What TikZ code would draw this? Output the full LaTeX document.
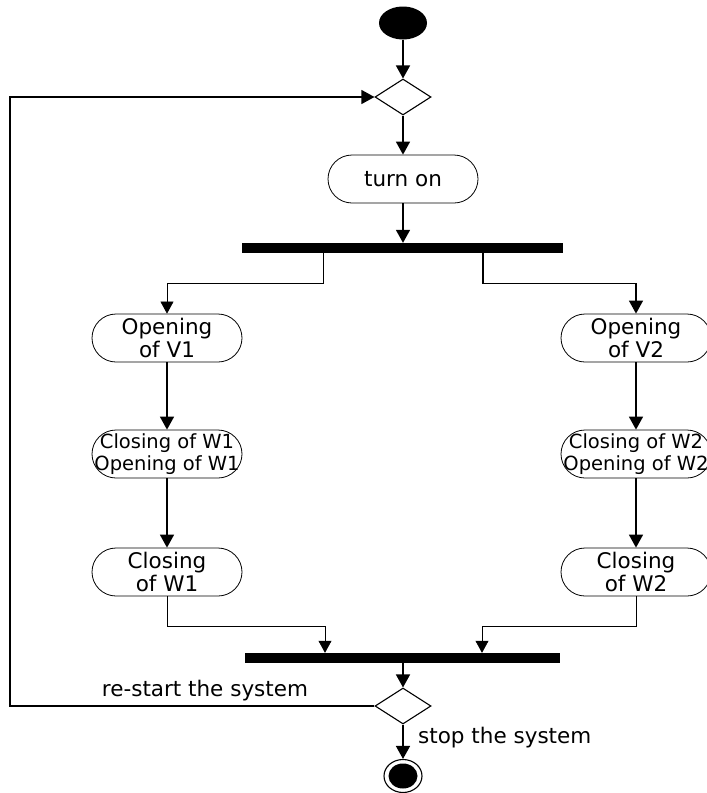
\documentclass[tikz,border=0pt]{standalone}
\usepackage{fontspec}
\setmainfont{DejaVu Sans}
\usetikzlibrary{arrows.meta,shapes.geometric}
\begin{document}
\begin{tikzpicture}[x=1pt,y=-1pt,
  act/.style={draw, line width=0.8pt, rounded corners=24pt, minimum width=150pt, minimum height=48pt, align=center, font=\fontsize{21.5}{23}\selectfont, inner sep=0pt},
  smalltext/.style={font=\fontsize{19.5}{22}\selectfont},
  dec/.style={draw, diamond, line width=1.1pt, minimum width=56pt, minimum height=36pt, inner sep=0pt},
  barnode/.style={fill=black, minimum height=10pt, inner sep=0pt},
  arr/.style={-{Triangle[width=14pt,length=13pt]}, line width=1.6pt},
  thinarr/.style={-{Triangle[width=13pt,length=12pt]}, line width=0.6pt},
  lbl/.style={font=\fontsize{21.5}{23}\selectfont, inner sep=0pt}
]
\useasboundingbox (0,0) rectangle (707,793);

\node[ellipse, fill=black, minimum width=48pt, minimum height=33pt, inner sep=0pt] (start) at (403,23) {};
\node[dec] (d1) at (403,97) {};
\node[act] (on) at (403,179) {turn on};
\node[barnode, minimum width=321pt] (fork) at (402.5,248) {};

\node[act] (v1) at (167,338) {Opening\\of V1};
\node[act, smalltext] (w1) at (167,454) {Closing of W1\\Opening of W1};
\node[act] (c1) at (167,572) {Closing\\of W1};

\node[act] (v2) at (636,338) {Opening\\of V2};
\node[act, smalltext] (w2) at (636,454) {Closing of W2\\Opening of W2};
\node[act] (c2) at (636,572) {Closing\\of W2};

\node[barnode, minimum width=315pt] (join) at (402.5,658) {};
\node[dec] (d2) at (403,706) {};

\node[ellipse, draw, line width=1.1pt, minimum width=38pt, minimum height=33pt, inner sep=0pt] (end) at (403,776) {};
\node[ellipse, fill=black, minimum width=29pt, minimum height=25pt, inner sep=0pt] (endin) at (end.center) {};

\coordinate (loop) at (10,706);

\draw[arr] (start) -- (d1.north);
\draw[arr] (d1.south) -- (on.north);
\draw[arr] (on.south) -- (on.south |- fork.north);

\draw[thinarr] ([xshift=-79.5pt]fork.south) -- ++(0,30) -| (v1.north);
\draw[arr, line width=1.3pt] ([xshift=80.5pt]fork.south) -- ++(0,30) -| (v2.north);

\draw[arr] (v1) -- (w1);
\draw[arr] (w1) -- (c1);
\draw[arr] (v2) -- (w2);
\draw[arr] (w2) -- (c2);

\draw[thinarr] (c1.south) -- ++(0,30) -| ([xshift=-77.5pt]join.north);
\draw[thinarr] (c2.south) -- ++(0,30) -| ([xshift=79.5pt]join.north);

\draw[arr] (join.south -| d2.north) -- (d2.north);
\draw[arr] (d2.south) -- (end.north);

\draw[arr, line width=1.2pt] (d2.west) -- (loop) |- (d1.west);

\node[lbl] (restart) at (205,691) {re-start the system};
\node[lbl, anchor=west] (stop) at (418,738) {stop the system};
\end{tikzpicture}
\end{document}
